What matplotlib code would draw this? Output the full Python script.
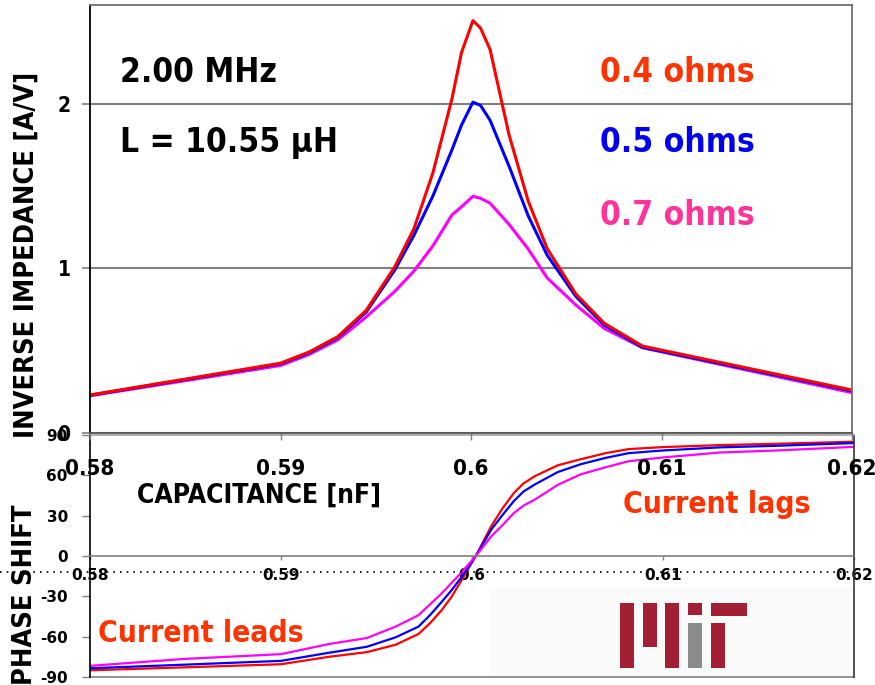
import matplotlib
matplotlib.use('Agg')
import matplotlib.pyplot as plt
from matplotlib.patches import Rectangle
from matplotlib.lines import Line2D

W, H = 875, 685
NARROW = dict(family='DejaVu Sans', fontstretch='condensed', weight='bold')
WIDE = dict(family='DejaVu Sans', weight='bold')

# capacitance [nF] and inverse impedance [A/V]
cap = [0.580, 0.590, 0.5915, 0.593, 0.5945, 0.596, 0.597, 0.598, 0.599, 0.5995,
       0.6001, 0.6005, 0.601, 0.602, 0.603, 0.604, 0.6055, 0.607, 0.609, 0.620]
inv_r04 = [0.231, 0.424, 0.492, 0.585, 0.745, 1.01, 1.24, 1.58, 2.03, 2.31,
           2.505, 2.46, 2.33, 1.81, 1.41, 1.12, 0.845, 0.666, 0.528, 0.261]
inv_r05 = [0.229, 0.420, 0.486, 0.578, 0.735, 0.99, 1.20, 1.44, 1.72, 1.87,
           2.01, 1.99, 1.90, 1.62, 1.32, 1.08, 0.83, 0.655, 0.52, 0.255]
inv_r07 = [0.226, 0.41, 0.477, 0.565, 0.705, 0.86, 0.983, 1.137, 1.325, 1.374,
           1.438, 1.426, 1.396, 1.267, 1.118, 0.942, 0.778, 0.635, 0.518, 0.245]

# phase shift [deg]
cap_ph = [0.580, 0.585, 0.590, 0.5925, 0.5945, 0.596, 0.5972, 0.5978, 0.5984, 0.5989,
          0.5994, 0.6002, 0.6006, 0.601, 0.6016, 0.6022, 0.6027, 0.6033, 0.6045,
          0.6057, 0.607, 0.6082, 0.610, 0.613, 0.616, 0.620]
ph_r04 = [-85, -82.8, -80.5, -75, -71.5, -66, -58, -50, -40.5, -31,
          -19.3, 0, 11, 22, 35.5, 47, 54, 59.5, 67.5,
          72, 76.5, 79.5, 81, 82.5, 83.5, 85]
ph_r05 = [-83.5, -80.8, -78, -72, -67.5, -60.5, -52.5, -44, -34.3, -26,
          -16.7, 0, 9.7, 19.5, 30.5, 41, 48, 53.3, 62.5,
          68.3, 73, 76.5, 78.5, 80.8, 82, 84]
ph_r07 = [-81.7, -76.5, -73, -65.5, -61, -52.5, -44, -36, -28, -20.5,
          -13, 0, 7.2, 14.5, 23, 32, 37.5, 42, 53,
          60.8, 66, 70.5, 73.3, 77, 78.5, 81.2]

xticks = [0.58, 0.59, 0.60, 0.61, 0.62]
xtick_labels = ['0.58', '0.59', '0.6', '0.61', '0.62']
inv_ticks = [0, 1, 2]
ph_ticks = [-90, -60, -30, 0, 30, 60, 90]

series_colors = ['#ff0000', '#0000ff', '#ff00ff']


def fx(x):
    return x / W


def fy(y):
    return 1 - y / H


fig = plt.figure(figsize=(W / 100, H / 100), dpi=100)

# ---- lower panel: phase shift
ax2 = fig.add_axes([fx(90), fy(677), (854 - 90) / W, (677 - 435) / H])
ax2.set_facecolor('none')
for ph, c in zip([ph_r04, ph_r05, ph_r07], series_colors):
    ax2.plot(cap_ph, ph, color=c, lw=1.6)
ax2.set_xlim(0.58, 0.62)
ax2.set_ylim(-90, 90)
ax2.spines['bottom'].set_position(('data', 0))
ax2.spines['bottom'].set_color('#808080')
ax2.spines['bottom'].set_linewidth(1.2)
ax2.spines['top'].set_color('#a0a0a0')
ax2.spines['right'].set_color('#333333')
ax2.spines['left'].set_color('black')
for s in ['top', 'right', 'left']:
    ax2.spines[s].set_linewidth(1.2)
ax2.axhline(-90, color='#808080', lw=1.2, clip_on=False)
ax2.set_yticks(ph_ticks)
ax2.set_yticklabels([str(t) for t in ph_ticks], fontsize=11, **WIDE)
ax2.set_xticks(xticks)
ax2.set_xticklabels(xtick_labels, fontsize=11, **WIDE)
ax2.tick_params(axis='y', length=6, width=1, color='#808080', pad=10)
ax2.tick_params(axis='x', length=3, width=1, color='#808080', pad=6)
for lab in ax2.get_xticklabels():
    lab.set_bbox(dict(facecolor='white', edgecolor='none', pad=0.5))
    lab.set_zorder(6)

# ---- upper panel: inverse impedance
ax1 = fig.add_axes([fx(90), fy(433), (852 - 90) / W, (433 - 5) / H])
ax1.set_facecolor('none')
for v, c in zip([inv_r07, inv_r05, inv_r04], series_colors[::-1]):
    ax1.plot(cap, v, color=c, lw=2.2)
ax1.set_xlim(0.58, 0.62)
ax1.set_ylim(0, 2.6)
ax1.set_yticks(inv_ticks)
ax1.set_yticklabels([str(t) for t in inv_ticks], fontsize=15, **NARROW)
ax1.set_xticks(xticks)
ax1.set_xticklabels(xtick_labels, fontsize=16, **NARROW)
ax1.tick_params(axis='y', length=6, width=1.2, color='#808080', pad=8)
ax1.tick_params(axis='x', length=5, width=1, color='#808080', pad=14)
ax1.grid(axis='y', color='#808080', lw=1.5)
ax1.set_axisbelow(True)
ax1.spines['left'].set_color('black')
ax1.spines['bottom'].set_color('#555555')
ax1.spines['top'].set_color('#707070')
ax1.spines['right'].set_color('#707070')
for s in ax1.spines.values():
    s.set_linewidth(1.3)

# dotted line through the lower tick labels
fig.add_artist(Line2D([0, fx(854)], [fy(572), fy(572)], color='black', lw=1.2,
                      ls=(0, (1, 3)), zorder=0.5))

# texts
fig.text(fx(120), fy(82), '2.00 MHz', fontsize=24, **NARROW)
fig.text(fx(120), fy(152), 'L = 10.55 \u03bcH', fontsize=24, **NARROW)
fig.text(fx(600), fy(82), '0.4 ohms', fontsize=24, color='#ff3300', **NARROW)
fig.text(fx(600), fy(152), '0.5 ohms', fontsize=24, color='#0000ee', **NARROW)
fig.text(fx(600), fy(225), '0.7 ohms', fontsize=24, color='#ff3399', **NARROW)
fig.text(fx(623), fy(513), 'Current lags', fontsize=21.5, color='#ff3300', **NARROW)
fig.text(fx(98), fy(642), 'Current leads', fontsize=21.5, color='#ff3300', **NARROW)
fig.text(fx(137), fy(503), 'CAPACITANCE [nF]', fontsize=19, **NARROW)
fig.text(fx(27), fy(255), 'INVERSE IMPEDANCE [A/V]', fontsize=19.5,
         rotation=90, ha='center', va='center', **NARROW)
fig.text(fx(25), fy(595), 'PHASE SHIFT', fontsize=19.5,
         rotation=90, ha='center', va='center', **NARROW)

# faint logo box and MIT logo
fig.add_artist(Rectangle((fx(490), fy(677)), (855 - 490) / W, (677 - 588) / H,
                         transform=fig.transFigure, facecolor='#fafafa', edgecolor='none', zorder=-1))
mit_red = '#a31f34'
mit_gray = '#8a8b8c'
bars = [(620, 603, 14, 65, mit_red), (643, 603, 14, 44, mit_red), (665, 603, 14, 65, mit_red),
        (688, 603, 14, 12, mit_red), (688, 623, 14, 45, mit_gray),
        (711, 603, 36, 13, mit_red), (711, 623, 14, 45, mit_red)]
for x, y, w, h, c in bars:
    fig.add_artist(Rectangle((fx(x), fy(y + h)), w / W, h / H, transform=fig.transFigure,
                             facecolor=c, edgecolor='none', zorder=5))

plt.savefig('out.png', dpi=100)
